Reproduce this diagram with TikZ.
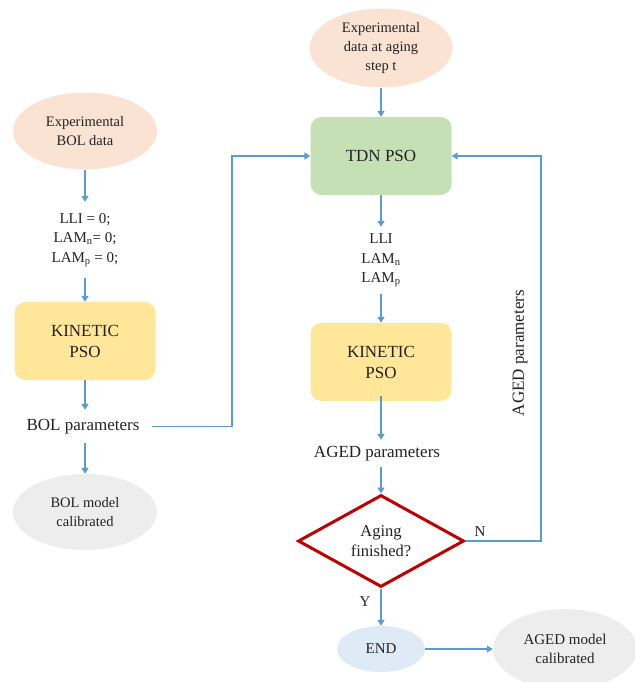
\documentclass[tikz,border=0pt]{standalone}
\usepackage{fontspec}
\setmainfont{Liberation Serif}
\usetikzlibrary{shapes.geometric,arrows.meta}
\definecolor{peach}{HTML}{FBE3D4}
\definecolor{greenbox}{HTML}{C5E0B4}
\definecolor{yellowbox}{HTML}{FFE699}
\definecolor{greyell}{HTML}{EDEDED}
\definecolor{endblue}{HTML}{DEEBF7}
\definecolor{arrblue}{HTML}{5B9BD5}
\definecolor{redd}{HTML}{C00000}
\definecolor{txt}{HTML}{222222}
\tikzset{
  ell/.style={ellipse,inner sep=0pt,align=center,text=txt,font=\fontsize{14.5}{19}\selectfont},
  rbox/.style={rectangle,rounded corners=11pt,inner sep=0pt,minimum width=141pt,minimum height=78pt,align=center,text=txt,font=\fontsize{17}{21}\selectfont},
  lbl/.style={inner sep=0pt,align=center,text=txt,font=\fontsize{15}{19.5}\selectfont},
  plbl/.style={inner sep=0pt,align=center,text=txt,font=\fontsize{17}{20}\selectfont},
  arr/.style={draw=arrblue,line width=1.9pt,-{Triangle[length=6pt,width=7pt]}}
}
\begin{document}
\begin{tikzpicture}[x=1pt,y=-1pt]
\useasboundingbox (0,0) rectangle (634,682);
% left column
\node[ell,fill=peach,minimum width=144pt,minimum height=77pt] (expbol) at (85,131) {Experimental\\BOL data};
\node[lbl,minimum height=76pt] (lli1) at (85,240) {LLI = 0;\\LAM\textsubscript{n}= 0;\\LAM\textsubscript{p} = 0;};
\node[rbox,fill=yellowbox] (kin1) at (85,341) {KINETIC\\PSO};
\node[plbl,minimum height=33pt] (bolp) at (83,426.5) {BOL parameters};
\node[ell,fill=greyell,minimum width=144pt,minimum height=76pt] (bolcal) at (85,512) {BOL model\\calibrated};
% middle column
\node[ell,fill=peach,minimum width=143pt,minimum height=79pt] (expage) at (381,48) {Experimental\\data at aging\\step t};
\node[rbox,fill=greenbox] (tdn) at (381,156) {TDN PSO};
\node[lbl,minimum height=67pt] (lli2) at (381,260.5) {LLI\\LAM\textsubscript{n}\\LAM\textsubscript{p}};
\node[rbox,fill=yellowbox] (kin2) at (381,362) {KINETIC\\PSO};
\node[plbl,minimum height=27pt] (agedp) at (377,453.5) {AGED parameters};
\node[diamond,draw=redd,line width=3pt,inner sep=0pt,minimum width=166pt,minimum height=92pt,aspect=1.8,align=center,text=txt,font=\fontsize{16.5}{20}\selectfont] (dia) at (381,541) {Aging\\finished?};
\node[ell,fill=endblue,minimum width=88pt,minimum height=46pt,font=\fontsize{15}{19}\selectfont] (endn) at (381,649) {END};
\node[ell,fill=greyell,minimum width=144pt,minimum height=80pt,font=\fontsize{15}{19}\selectfont] (agedcal) at (565,649) {AGED model\\calibrated};
% labels
\node[lbl] (nlab) at (480,532) {N};
\node[lbl] (ylab) at (365,602) {Y};
\node[plbl,rotate=90] (agedrot) at (520,353) {AGED parameters};
\coordinate (jA) at (232,156);
\coordinate (jB) at (541,156);
% connectors
\draw[arr] (expbol.south) -- (expbol.south |- lli1.north);
\draw[arr] (lli1.south) -- (lli1.south |- kin1.north);
\draw[arr] (kin1.south) -- (kin1.south |- bolp.north);
\draw[arr] (bolp.south -| kin1.south) -- (bolcal.north);
\draw[arr] ([xshift=12pt]bolp.east) -| (jA) -- (tdn.west);
\draw[arr] (expage.south) -- (tdn.north);
\draw[arr] (tdn.south) -- (tdn.south |- lli2.north);
\draw[arr] (lli2.south) -- (lli2.south |- kin2.north);
\draw[arr] ([yshift=5pt]kin2.south) -- (kin2.south |- agedp.north);
\draw[arr] (kin2.south |- agedp.south) -- (dia.north);
\draw[arr] (dia.east) -| (jB) -- (tdn.east);
\draw[arr] (dia.south) -- (endn.north);
\draw[arr] (endn.east) -- (agedcal.west);
\end{tikzpicture}
\end{document}
